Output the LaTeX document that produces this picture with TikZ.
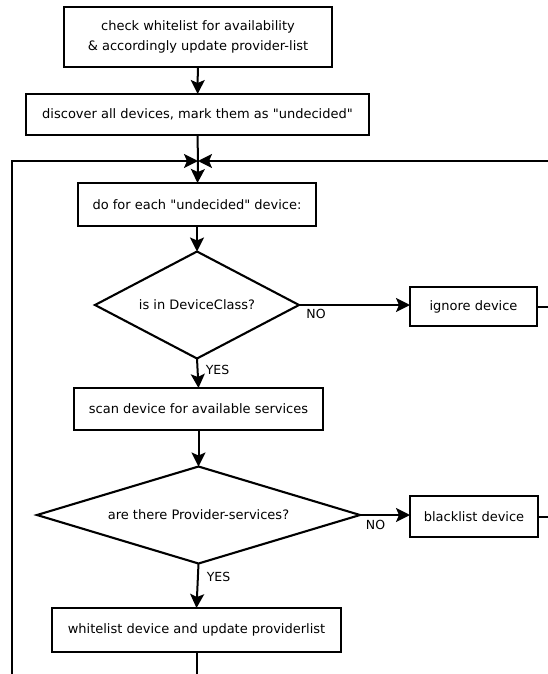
\documentclass[tikz,border=0pt]{standalone}
\usepackage{fontspec}
\setmainfont{DejaVu Sans}
\usetikzlibrary{shapes.geometric,arrows.meta}
\begin{document}
\begin{tikzpicture}[x=1pt,y=-1pt,
  every node/.style={inner sep=0pt,outer sep=0pt},
  stepbox/.style={draw,line width=2.1pt,align=center,font=\fontsize{13}{19.5}\selectfont},
  decision/.style={draw,diamond,line width=2.1pt,font=\fontsize{13}{15}\selectfont},
  lbl/.style={font=\fontsize{12.5}{14}\selectfont},
  flow/.style={line width=2pt},
  arr/.style={flow,-{Stealth[length=14pt,width=14pt,inset=3pt]}}]
\useasboundingbox (0,0) rectangle (548,674);

% process steps
\node[stepbox,minimum width=268,minimum height=60] (check) at (198,37)
  {check whitelist for availability\\\& accordingly update provider-list};
\node[stepbox,minimum width=343,minimum height=41] (discover) at (197.5,114.5)
  {discover all devices, mark them as \textquotedbl undecided\textquotedbl};
\coordinate (join) at (198,161);
\node[stepbox,minimum width=238,minimum height=43] (foreach) at (197,204.5)
  {do for each \textquotedbl undecided\textquotedbl\ device:};
\node[decision,aspect=1.907,minimum width=204,minimum height=107] (isclass) at (197,305)
  {is in DeviceClass?};
\node[stepbox,minimum width=127,minimum height=39] (ignore) at (473.5,306.5)
  {ignore device};
\node[stepbox,minimum width=249,minimum height=42] (scan) at (198.5,409)
  {scan device for available services};
\node[decision,aspect=3.33,minimum width=323,minimum height=97] (provider) at (198.5,515)
  {are there Provider-services?};
\node[stepbox,minimum width=128,minimum height=41] (blacklist) at (474,516.5)
  {blacklist device};
\node[stepbox,minimum width=289,minimum height=44] (whitelist) at (196.5,630)
  {whitelist device and update providerlist};

% loop-back and exit points
\coordinate (leftbot) at (12,674);
\coordinate (leftup) at (12,161);
\coordinate (rightin) at (548,161);
\coordinate (ignoreout) at (548,306.5);
\coordinate (blackout) at (548,516.5);
\coordinate (bottom) at (196.5,674);

% connectors
\draw[arr] (check) -- (discover);
\draw[flow] (discover.south) -- (join);
\draw[arr] (leftbot) -- (leftup) -- (join);
\draw[arr] (rightin) -- (join);
\draw[arr] (join) -- (foreach);
\draw[arr] (foreach) -- (isclass);
\draw[arr] (isclass.east) -- (ignore.west |- isclass.east);
\draw[flow] (ignore.east) -- (ignoreout);
\draw[arr] (isclass.south) -- (scan.north);
\draw[arr] (scan) -- (provider);
\draw[arr] (provider.east) -- (blacklist.west |- provider.east);
\draw[flow] (blacklist.east) -- (blackout);
\draw[arr] (provider.south) -- (whitelist.north);
\draw[flow] (whitelist.south) -- (bottom);

% branch labels
\node[lbl] at (316,314) {NO};
\node[lbl] at (375.5,525) {NO};
\node[lbl] at (217.5,370) {YES};
\node[lbl] at (218.5,577) {YES};
\end{tikzpicture}
\end{document}
